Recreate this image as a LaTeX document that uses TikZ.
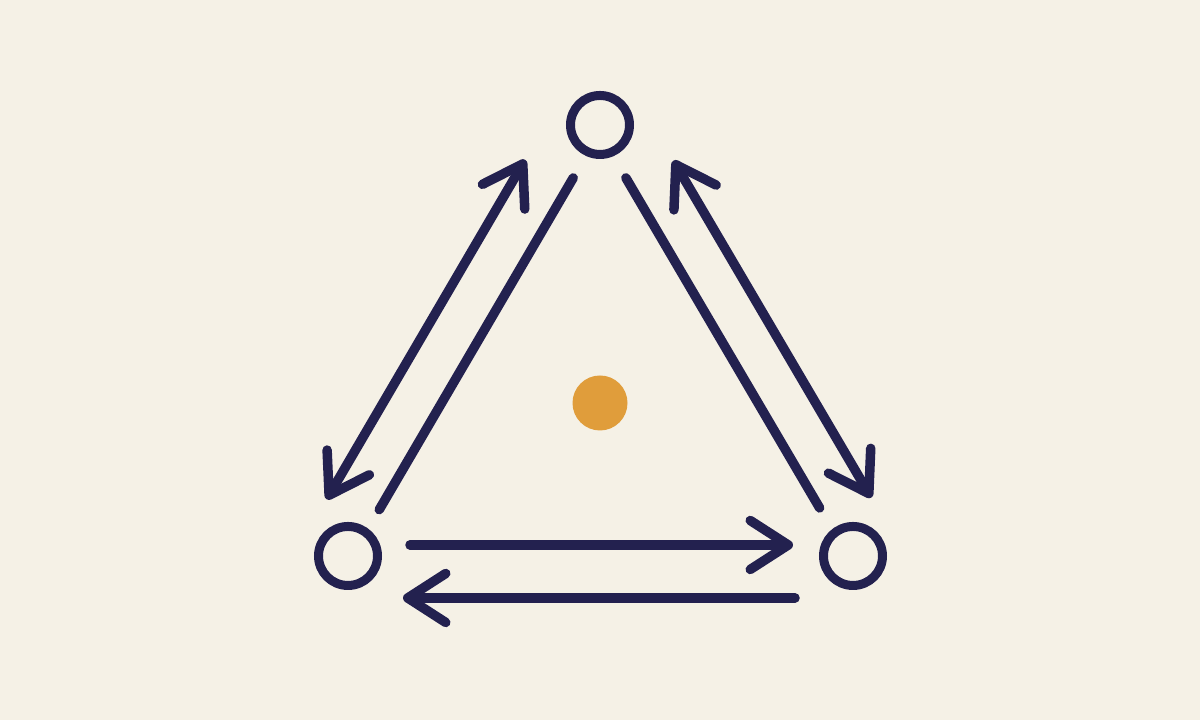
\documentclass[tikz,border=0pt]{standalone}
\usepackage{tikz}
\usetikzlibrary{arrows.meta}
\definecolor{navy}{HTML}{23214F}
\definecolor{cream}{HTML}{F5F1E6}
\definecolor{amber}{HTML}{E09D3B}

\begin{document}
\begin{tikzpicture}[
    >={Straight Barb[length=3.8mm, width=4.9mm, round]},
    every node/.style={circle, draw=navy, line width=0.09cm, minimum size=0.59cm, inner sep=0pt},
    every edge/.style={draw=navy, line width=0.095cm, line cap=round}
]
\fill[cream] (0,0) rectangle (12,7.2);
\useasboundingbox (0,0) rectangle (12,7.2);

% Nodes
\node (1) at (6.00,5.95) {};
\node (2) at (3.48,1.64) {};
\node (3) at (8.53,1.64) {};
\node[fill=amber, draw=none, minimum size=0.55cm] (c) at (6.00,3.17) {};

% Edges
\path (1) edge[<->, shorten <=0.33cm, shorten >=0.05cm, transform canvas={shift={(-0.41,0.23)}}] (2);
\path (1) edge[shorten <=0.25cm, shorten >=0.22cm, transform canvas={shift={(0.03,-0.02)}}] (2);
\path (1) edge[<->, shorten <=0.34cm, shorten >=0.07cm, transform canvas={shift={(0.39,0.23)}}] (3);
\path (1) edge[shorten <=0.25cm, shorten >=0.24cm, transform canvas={shift={(-0.04,-0.02)}}] (3);
\path (2) edge[->, shorten <=0.28cm, shorten >=0.26cm, transform canvas={yshift=0.11cm}] (3);
\path (3) edge[->, shorten <=0.24cm, shorten >=0.21cm, transform canvas={yshift=-0.42cm}] (2);

\end{tikzpicture}
\end{document}
